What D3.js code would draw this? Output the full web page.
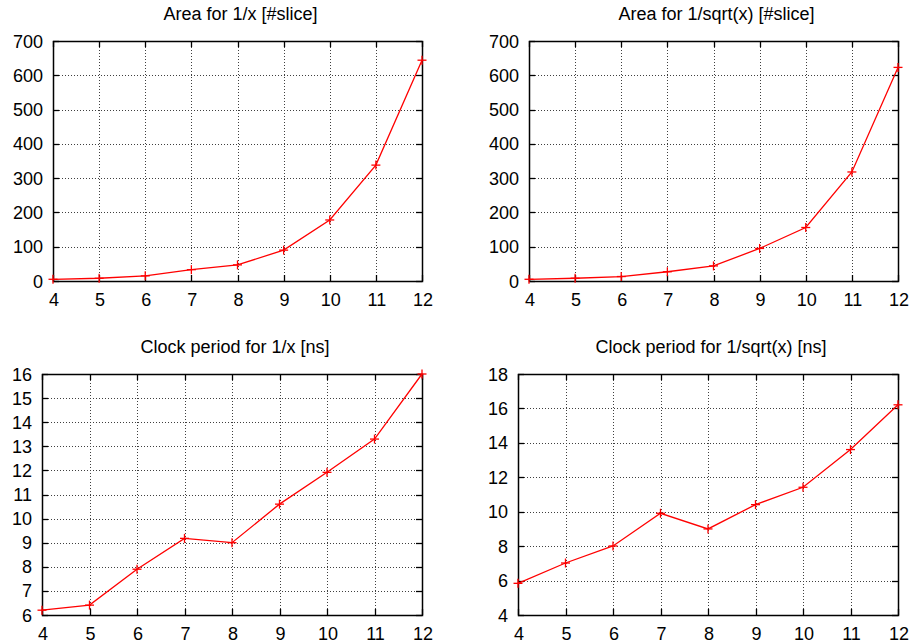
<!DOCTYPE html>
<html>
<head>
<meta charset="utf-8">
<script src="https://cdn.jsdelivr.net/npm/d3@7"></script>
<style>
  html, body { margin: 0; padding: 0; background: #fff; }
  svg { display: block; }
  text { font-family: "Liberation Sans", Arial, Helvetica, sans-serif; fill: #000; }
</style>
</head>
<body>
<svg id="chart" width="912" height="644"></svg>
<script>
// ---- data ----
const xValues = [4, 5, 6, 7, 8, 9, 10, 11, 12];
const xTicks = [4, 5, 6, 7, 8, 9, 10, 11, 12];

const titles = [
  "Area for 1/x [#slice]",
  "Area for 1/sqrt(x) [#slice]",
  "Clock period for 1/x [ns]",
  "Clock period for 1/sqrt(x) [ns]"
];

const areaInv = [5, 8, 15, 33, 47, 90, 178, 338, 644];
const areaInvSqrt = [5, 8, 13, 27, 44, 95, 156, 318, 623];
const clockInv = [6.2, 6.41, 7.9, 9.18, 9.0, 10.6, 11.92, 13.3, 16.0];
const clockInvSqrt = [5.84, 7.02, 8.01, 9.91, 9.0, 10.41, 11.42, 13.61, 16.21];

const areaTicks = [0, 100, 200, 300, 400, 500, 600, 700];
const clockInvTicks = [6, 7, 8, 9, 10, 11, 12, 13, 14, 15, 16];
const clockInvSqrtTicks = [4, 6, 8, 10, 12, 14, 16, 18];

// ---- layout ----
const panels = [
  { title: titles[0], values: areaInv, ticks: areaTicks, box: [53, 41, 422, 281] },
  { title: titles[1], values: areaInvSqrt, ticks: areaTicks, box: [529, 41, 898, 281] },
  { title: titles[2], values: clockInv, ticks: clockInvTicks, box: [42, 374, 422, 615] },
  { title: titles[3], values: clockInvSqrt, ticks: clockInvSqrtTicks, box: [518, 374, 898, 615] }
];

const svg = d3.select("#chart");
const FS = 18;
const tickLen = 6;

panels.forEach(p => {
  const [x0, y0, x1, y1] = p.box;
  const g = svg.append("g");
  const x = d3.scaleLinear().domain([xTicks[0], xTicks[xTicks.length - 1]]).range([x0, x1]);
  const y = d3.scaleLinear().domain([p.ticks[0], p.ticks[p.ticks.length - 1]]).range([y1, y0]);

  // grid (dotted)
  const grid = g.append("g").attr("stroke", "#000").attr("stroke-width", 1)
    .attr("stroke-dasharray", "1,2").attr("opacity", 0.75);
  xTicks.slice(1, -1).forEach(t => {
    grid.append("line").attr("x1", Math.round(x(t)) + 0.5).attr("x2", Math.round(x(t)) + 0.5)
      .attr("y1", y0).attr("y2", y1);
  });
  p.ticks.slice(1, -1).forEach(t => {
    grid.append("line").attr("y1", Math.round(y(t)) + 0.5).attr("y2", Math.round(y(t)) + 0.5)
      .attr("x1", x0).attr("x2", x1);
  });

  // inward ticks on all four sides
  const tg = g.append("g").attr("stroke", "#000").attr("stroke-width", 1.3);
  xTicks.forEach(t => {
    const xx = Math.round(x(t)) + 0.5;
    tg.append("line").attr("x1", xx).attr("x2", xx).attr("y1", y1).attr("y2", y1 - tickLen);
    tg.append("line").attr("x1", xx).attr("x2", xx).attr("y1", y0).attr("y2", y0 + tickLen);
  });
  p.ticks.forEach(t => {
    const yy = Math.round(y(t)) + 0.5;
    tg.append("line").attr("y1", yy).attr("y2", yy).attr("x1", x0).attr("x2", x0 + tickLen);
    tg.append("line").attr("y1", yy).attr("y2", yy).attr("x1", x1).attr("x2", x1 - tickLen);
  });

  // border
  g.append("rect").attr("x", x0 + 0.5).attr("y", y0 + 0.5)
    .attr("width", x1 - x0).attr("height", y1 - y0)
    .attr("fill", "none").attr("stroke", "#000").attr("stroke-width", 1.5);

  // tick labels
  const xl = g.append("g").attr("font-size", FS).attr("text-anchor", "middle");
  xTicks.forEach(t => {
    xl.append("text").attr("x", x(t) + 1).attr("y", y1 + 25).text(t);
  });
  const yl = g.append("g").attr("font-size", FS).attr("text-anchor", "end");
  p.ticks.forEach(t => {
    yl.append("text").attr("x", x0 - 10).attr("y", y(t) + 6.5).text(t);
  });

  // title
  g.append("text").attr("x", (x0 + x1) / 2 + 3).attr("y", y0 - 21)
    .attr("text-anchor", "middle").attr("font-size", FS).text(p.title);

  // line
  const line = d3.line().x((d, i) => x(xValues[i])).y(d => y(d));
  g.append("path").datum(p.values).attr("d", line)
    .attr("fill", "none").attr("stroke", "#ff0000").attr("stroke-width", 1.3);

  // + markers
  const m = 4.5;
  const mk = g.append("g").attr("stroke", "#ff0000").attr("stroke-width", 1.3);
  p.values.forEach((v, i) => {
    const cx = x(xValues[i]), cy = y(v);
    mk.append("line").attr("x1", cx - m).attr("x2", cx + m).attr("y1", cy).attr("y2", cy);
    mk.append("line").attr("x1", cx).attr("x2", cx).attr("y1", cy - m).attr("y2", cy + m);
  });
});
</script>
</body>
</html>
